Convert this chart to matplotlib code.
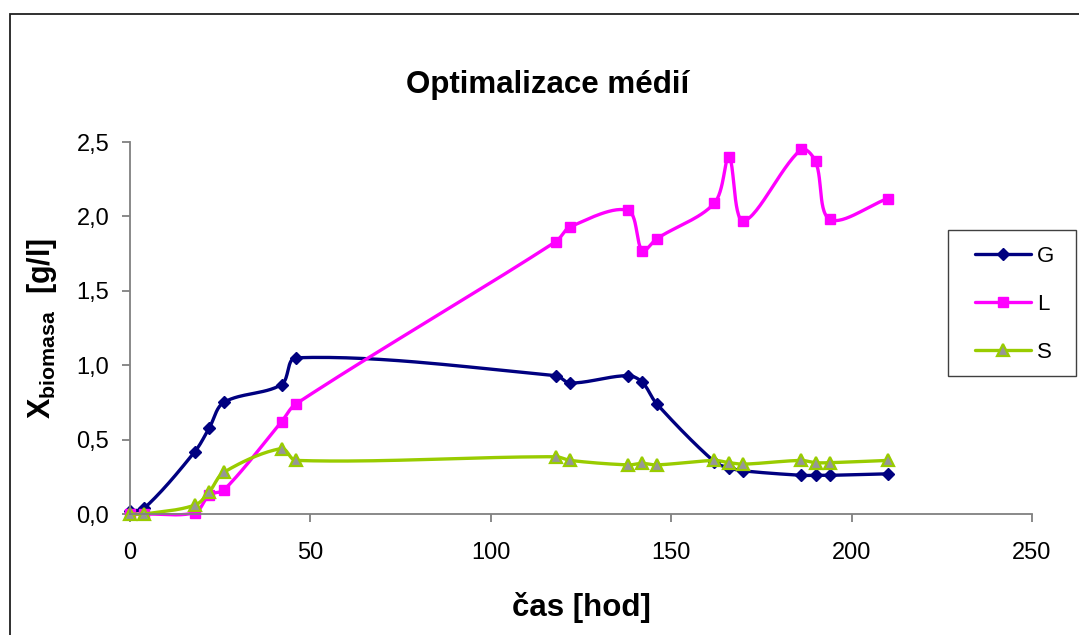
import numpy as np
import matplotlib
matplotlib.use("Agg")
import matplotlib.pyplot as plt
from matplotlib.patches import Rectangle
from matplotlib.ticker import FuncFormatter, MultipleLocator

plt.rcParams['font.family'] = ['Liberation Sans', 'DejaVu Sans']
plt.rcParams['mathtext.fontset'] = 'custom'
plt.rcParams['mathtext.rm'] = 'Liberation Sans'
plt.rcParams['mathtext.bf'] = 'Liberation Sans:bold'

# ---- data ----
time_h = [0, 4, 18, 22, 26, 42, 46, 118, 122, 138, 142, 146, 162, 166, 170, 186, 190, 194, 210]
G = [0.02, 0.04, 0.42, 0.58, 0.75, 0.87, 1.05, 0.93, 0.88, 0.93, 0.885, 0.74, 0.35, 0.31, 0.29, 0.26, 0.26, 0.26, 0.27]
L = [0.0, 0.0, 0.01, 0.13, 0.16, 0.62, 0.74, 1.83, 1.93, 2.04, 1.77, 1.85, 2.09, 2.40, 1.97, 2.45, 2.37, 1.98, 2.12]
S = [0.0, 0.0, 0.06, 0.15, 0.28, 0.44, 0.36, 0.385, 0.36, 0.33, 0.34, 0.33, 0.36, 0.345, 0.335, 0.36, 0.345, 0.345, 0.36]
series_names = ['G', 'L', 'S']
title = 'Optimalizace médií'
xlabel = 'čas [hod]'

NSEG = 30

fig = plt.figure(figsize=(10.79, 6.35), dpi=100)
W, H = 1079, 635
ax = fig.add_axes([130 / W, 1 - 514 / H, (1032 - 130) / W, (514 - 142) / H])
ax.set_xlim(0, 250)
ax.set_ylim(0, 2.5)


def smooth(x, y, n=NSEG, k=1 / 3):
    """Excel-like smoothed line: cubic Bezier through the points, computed in display space."""
    P = ax.transData.transform(np.column_stack([np.asarray(x, float), np.asarray(y, float)]))
    m = len(P)
    tang = np.zeros_like(P)
    fac = np.ones(m)
    for i in range(m):
        a = P[max(i - 1, 0)]
        b = P[min(i + 1, m - 1)]
        d = b - a
        nd = np.hypot(*d)
        tang[i] = d / nd if nd > 0 else 0
        if 0 < i < m - 1:
            s = np.hypot(*(P[i] - a)) + np.hypot(*(b - P[i]))
            fac[i] = nd / s if s > 0 else 1
    out = [P[0]]
    t = np.linspace(0, 1, n + 1)[1:]
    for i in range(m - 1):
        p1, p2 = P[i], P[i + 1]
        seglen = np.hypot(*(p2 - p1))
        c1 = p1 + tang[i] * seglen * k * fac[i]
        c2 = p2 - tang[i + 1] * seglen * k * fac[i + 1]
        seg = (((1 - t) ** 3)[:, None] * p1 + (3 * (1 - t) ** 2 * t)[:, None] * c1
               + (3 * (1 - t) * t ** 2)[:, None] * c2 + (t ** 3)[:, None] * p2)
        out.extend(seg)
    out = ax.transData.inverted().transform(np.array(out))
    return out[:, 0], out[:, 1]


styles = [
    dict(color='#000080', marker='D', ms=6.3, mfc='#000080', mec='#000080', mew=1.0),
    dict(color='#FF00FF', marker='s', ms=7.6, mfc='#FF00FF', mec='#FF00FF', mew=1.0),
    dict(color='#99CC00', marker='^', ms=8.6, mfc='#969696', mec='#99CC00', mew=1.6),
]
for name, vals, st in zip(series_names, [G, L, S], styles):
    xs, ys = smooth(time_h, vals)
    idx = [i * NSEG for i in range(len(time_h))]
    ax.plot(xs, ys, lw=2.4, markevery=idx, label=name, clip_on=False,
            solid_joinstyle='round', solid_capstyle='round', **st)

ax.xaxis.set_major_locator(MultipleLocator(50))
ax.yaxis.set_major_locator(MultipleLocator(0.5))
ax.yaxis.set_major_formatter(FuncFormatter(lambda v, p: f'{v:.1f}'.replace('.', ',')))
for s in ['top', 'right']:
    ax.spines[s].set_visible(False)
for s in ['left', 'bottom']:
    ax.spines[s].set_color('#808080')
    ax.spines[s].set_linewidth(1.3)
ax.tick_params(axis='both', direction='out', length=6, width=1.3, color='#808080',
               labelsize=17, labelcolor='black')
ax.tick_params(axis='y', pad=9)
ax.tick_params(axis='x', pad=14)

ax.set_xlabel(xlabel, fontsize=22.5, fontweight='bold')
ax.xaxis.label.set_va('baseline')
ax.xaxis.set_label_coords(0.5, -(616 - 514) / 372)

ax.set_ylabel(r'$\mathbf{X}_{\mathbf{biomasa}}$  [g/l]', fontsize=22, fontweight='bold',
              rotation=90, rotation_mode='anchor', va='baseline', ha='center')
ax.yaxis.set_label_coords((50 - 130) / 902, 0.5)

fig.text(548 / W, 1 - 93 / H, title, fontsize=22.5, fontweight='bold',
         ha='center', va='baseline')

leg = ax.legend(loc='upper left', bbox_to_anchor=(975 / W, 1 - 246 / H),
                bbox_transform=fig.transFigure, fontsize=16, frameon=False,
                borderpad=0, labelspacing=1.22, handlelength=2.5,
                handletextpad=0.3, borderaxespad=0)
# legend box
fig.add_artist(Rectangle((948 / W, 1 - 376 / H), (1076 - 948) / W, (376 - 230) / H,
                         transform=fig.transFigure, fill=False, edgecolor='#404040',
                         linewidth=1.0))

# outer chart area frame (cropped at right and bottom)
fig.add_artist(Rectangle((10 / W, -0.1), 1.2, 1 - 14 / H + 0.1, transform=fig.transFigure,
                         fill=False, edgecolor='#202020', linewidth=1.3))

fig.savefig('out.png', dpi=100)
